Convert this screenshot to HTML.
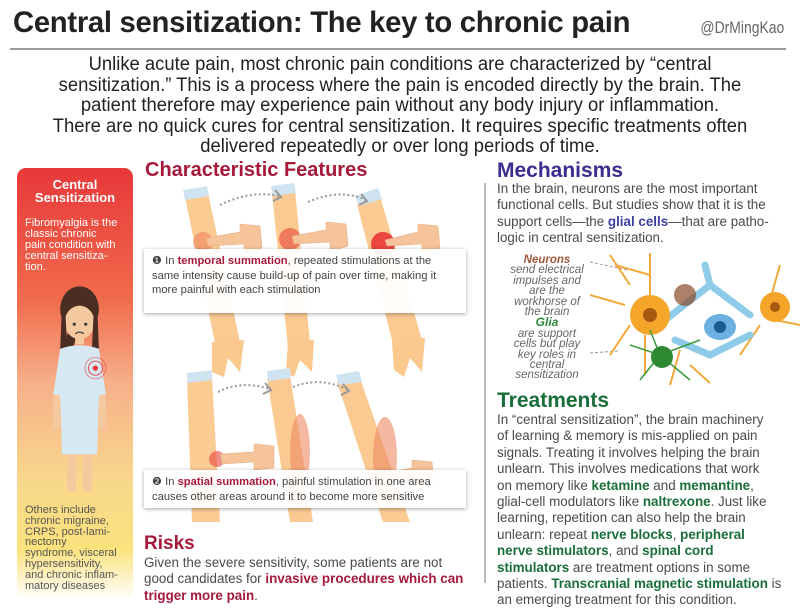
<!DOCTYPE html>
<html><head><meta charset="utf-8"><style>
*{margin:0;padding:0;box-sizing:border-box}
body{width:800px;height:608px;background:#fff;position:relative;overflow:hidden;font-family:"Liberation Sans",sans-serif;color:#444}
.a{position:absolute;white-space:nowrap}
.title{left:13px;top:6px;font-size:30px;font-weight:bold;color:#222;transform:scaleX(.975);transform-origin:left top;letter-spacing:-.3px}
.handle{right:16px;top:18px;font-size:17px;color:#666;transform:scaleX(.82);transform-origin:right top}
.intro{left:0;width:800px;top:55px;text-align:center;font-size:19px;line-height:20.6px;color:#222}
.intro div{transform:scaleX(.97)}
.lp{left:17px;top:168px;width:116px;height:432px;border-radius:9px;background:linear-gradient(#e8383a 0%,#f06a4c 30%,#f7b08a 50%,#f8d78d 72%,#fbe27c 88%,#fff 100%)}
.h2{font-weight:bold;font-size:20px}
.p{font-size:13.4px;line-height:16.4px;color:#4a4a4a}
.box{position:absolute;background:rgba(255,255,255,.94);box-shadow:0 1px 4px rgba(0,0,0,.35);font-size:11.2px;line-height:14.5px;color:#444;padding:5px 8px}
.r{color:#a6193a;font-weight:bold}
.g{color:#1a6e3a;font-weight:bold}
.it{font-style:italic;font-size:11.5px;line-height:10.4px;color:#666;text-align:center}
</style></head><body>
<div class="a title">Central sensitization: The key to chronic pain</div>
<div class="a handle">@DrMingKao</div>
<div style="position:absolute;left:10px;top:48px;width:776px;height:2px;background:#999"></div>
<div class="a intro">
<div>Unlike acute pain, most chronic pain conditions are characterized by “central</div>
<div>sensitization.” This is a process where the pain is encoded directly by the brain. The</div>
<div>patient therefore may experience pain without any body injury or inflammation.</div>
<div>There are no quick cures for central sensitization. It requires specific treatments often</div>
<div>delivered repeatedly or over long periods of time.</div>
</div>

<div class="a lp"></div>
<div class="a" style="left:17px;width:116px;top:179px;text-align:center;color:#fff;font-weight:bold;font-size:13px;line-height:12.5px">Central<br>Sensitization</div>
<div class="a" style="left:25px;top:218px;color:#fff;font-size:11px;line-height:11px">Fibromyalgia is the<br>classic chronic<br>pain condition with<br>central sensitiza-<br>tion.</div>
<svg class="a" style="left:17px;top:168px" width="116" height="432">
<g transform="translate(8,40) scale(.88)">
<path d="M38 195 Q38 150 60 125 L60 145 Z" fill="#4a2e22"/>
<ellipse cx="62" cy="115" rx="22" ry="26" fill="#4a2e22"/>
<ellipse cx="62" cy="130" rx="17" ry="19" fill="#f5c9a0"/>
<path d="M44 118 Q62 95 80 118 L80 110 Q62 85 44 110Z" fill="#4a2e22"/>
<path d="M42 112 L40 160 L48 160 L46 120Z M82 112 L84 160 L76 160 L78 120Z" fill="#4a2e22"/>
<circle cx="56" cy="132" r="1.8" fill="#333"/><circle cx="69" cy="132" r="1.8" fill="#333"/>
<path d="M57 143 Q62 139 67 143" stroke="#333" fill="none" stroke-width="1.2"/>
<rect x="57" y="147" width="10" height="8" fill="#f5c9a0"/>
<path d="M40 160 Q62 152 84 160 L92 212 L84 215 L82 280 L42 280 L40 215 L32 212 Z" fill="#d6e8f2"/>
<rect x="32" y="212" width="8" height="40" rx="4" fill="#f5c9a0"/><rect x="84" y="212" width="8" height="40" rx="4" fill="#f5c9a0"/>
<rect x="48" y="280" width="10" height="42" fill="#f5c9a0"/><rect x="66" y="280" width="10" height="42" fill="#f5c9a0"/>
<circle cx="80" cy="182" r="12" fill="none" stroke="#e8383a" stroke-width="1" opacity=".6"/>
<circle cx="80" cy="182" r="8" fill="none" stroke="#e8383a" stroke-width="1.2" opacity=".8"/>
<circle cx="80" cy="182" r="3" fill="#e8383a"/>
</g>
</svg>
<div class="a" style="left:25px;top:505px;color:#555;font-size:11px;line-height:10.8px">Others include<br>chronic migraine,<br>CRPS, post-lami-<br>nectomy<br>syndrome, visceral<br>hypersensitivity,<br>and chronic inflam-<br>matory diseases</div>

<div class="a h2" style="left:145px;top:159px;color:#a6193a">Characteristic Features</div>
<svg class="a" style="left:140px;top:182px" width="340" height="350">
<g fill="#fbc88e" opacity=".95">
<polygon points="45,15 68,11 100,160 76,166"/><polygon points="132,11 155,8 170,160 148,166"/><polygon points="217,22 240,14 282,158 254,166"/>
<polygon points="47,198 72,195 80,340 52,340"/><polygon points="127,196 150,193 173,340 150,340"/><polygon points="197,200 220,196 270,340 243,340"/>
</g>
<g fill="#fbc88e"><path d="M72 160 L104 158 L100 190 L88 176 L84 195 L72 190Z"/><path d="M148 160 L174 158 L172 190 L160 178 L154 195 L146 190Z"/><path d="M252 160 L285 156 L282 190 L270 176 L264 195 L254 188Z"/></g>
<g fill="#cfe4f0"><polygon points="43,8 67,4 69,14 45,18"/><polygon points="131,4 154,1 156,11 133,14"/><polygon points="215,14 238,6 242,17 219,24"/><polygon points="47,191 72,188 72,198 47,201"/><polygon points="127,189 150,186 151,196 128,199"/><polygon points="196,193 219,189 222,200 199,203"/></g>
<circle cx="63" cy="60" r="10" fill="#f0845e" opacity=".6"/><circle cx="150" cy="57" r="11" fill="#ea5a44" opacity=".7"/><circle cx="243" cy="62" r="12" fill="#e8242a" opacity=".8"/>
<ellipse cx="160" cy="270" rx="10" ry="38" fill="#ee8a62" opacity=".6"/><ellipse cx="245" cy="275" rx="12" ry="40" fill="#ee8a62" opacity=".6"/><circle cx="77" cy="277" r="8" fill="#e8423a" opacity=".6"/><circle cx="237" cy="296" r="8" fill="#e8423a" opacity=".6"/>
<g fill="#f5c49a" stroke="#e8a87a" stroke-width=".5">
<path d="M66 56 L100 50 L100 42 L120 44 L122 66 L104 72 L104 62 L68 64Z"/><path d="M152 54 L186 48 L186 40 L206 42 L208 64 L190 70 L190 60 L154 62Z"/><path d="M245 58 L278 50 L278 42 L298 44 L300 66 L282 72 L282 62 L247 64Z"/>
<path d="M80 272 L114 270 L114 262 L134 264 L134 286 L114 288 L114 280 L82 282Z"/><path d="M238 292 L272 286 L272 278 L292 280 L294 302 L276 308 L276 298 L240 300Z"/>
</g>
<g fill="none" stroke="#999" stroke-width="2" stroke-dasharray="2 2.5"><path d="M80 23 Q110 8 140 14"/><path d="M168 20 Q200 6 226 18"/><path d="M78 210 Q100 198 130 207"/><path d="M153 205 Q180 194 208 208"/></g>
<g fill="none" stroke="#999" stroke-width="2"><path d="M135 8 L141 15 L133 19"/><path d="M221 12 L227 19 L219 23"/><path d="M125 201 L131 208 L123 212"/><path d="M203 202 L209 209 L201 213"/></g>
</svg>
<div class="box" style="left:144px;top:249px;width:322px;height:64px">❶ In <span class="r">temporal summation</span>, repeated stimulations at the<br>same intensity cause build-up of pain over time, making it<br>more painful with each stimulation</div>
<div class="box" style="left:144px;top:470px;width:322px;height:38px">❷ In <span class="r">spatial summation</span>, painful stimulation in one area<br>causes other areas around it to become more sensitive</div>

<div class="a h2" style="left:144px;top:533px;color:#a6193a;font-size:19px">Risks</div>
<div class="a p" style="left:144px;top:555px">Given the severe sensitivity, some patients are not<br>good candidates for <span class="r">invasive procedures which can</span><br><span class="r">trigger more pain</span>.</div>

<div style="position:absolute;left:484px;top:183px;width:1.5px;height:400px;background:#bbb"></div>

<div class="a h2" style="left:497px;top:159px;color:#3b2d8f;font-size:21px">Mechanisms</div>
<div class="a p" style="left:497px;top:181px">In the brain, neurons are the most important<br>functional cells. But studies show that it is the<br>support cells—the <b style="color:#3b3fa0">glial cells</b>—that are patho-<br>logic in central sensitization.</div>
<div class="a it" style="left:503px;top:255px;width:88px"><b style="color:#a0583a">Neurons</b><br>send electrical<br>impulses and<br>are the<br>workhorse of<br>the brain<br><b style="color:#2c8a3a;font-size:12px">Glia</b><br>are support<br>cells but play<br>key roles in<br>central<br>sensitization</div>
<svg class="a" style="left:590px;top:245px" width="210" height="140">
<g stroke="#999" stroke-dasharray="3 2" fill="none"><path d="M0 17 L38 25"/><path d="M0 108 L28 106"/></g>
<g stroke="#f2a93a" stroke-width="2" fill="none"><path d="M40 40 L20 10 M35 60 L0 50 M40 80 L20 110 M55 90 L55 130 M60 50 L60 8 M180 55 L190 20 M185 75 L210 80 M170 80 L150 110 M90 105 L80 140 M100 120 L120 138 M60 30 L25 20"/></g>
<g stroke="#8ecbe8" stroke-width="7" fill="none" stroke-linecap="round"><path d="M75 75 L120 40 L160 70 M120 40 L115 20 M85 95 L120 110 L160 90"/></g>
<circle cx="60" cy="70" r="20" fill="#f5a62a"/><circle cx="60" cy="70" r="7" fill="#a55a10"/>
<circle cx="185" cy="62" r="15" fill="#f5a62a"/><circle cx="185" cy="62" r="5" fill="#a55a10"/>
<circle cx="95" cy="50" r="11" fill="#8a4a2a" opacity=".7"/>
<ellipse cx="130" cy="82" rx="16" ry="13" fill="#6ab0e0"/><circle cx="130" cy="82" r="6" fill="#1a5a90"/>
<g stroke="#3a9a3a" stroke-width="1.5" fill="none"><path d="M70 110 L40 100 M70 110 L50 135 M70 110 L100 135 M70 110 L60 85 M70 110 L110 95"/></g>
<circle cx="72" cy="112" r="11" fill="#2e8a32"/>
</svg>

<div class="a h2" style="left:497px;top:389px;color:#1a6e3a;font-size:21px">Treatments</div>
<div class="a p" style="left:497px;top:412px">In “central sensitization”, the brain machinery<br>of learning &amp; memory is mis-applied on pain<br>signals. Treating it involves helping the brain<br>unlearn. This involves medications that work<br>on memory like <span class="g">ketamine</span> and <span class="g">memantine</span>,<br>glial-cell modulators like <span class="g">naltrexone</span>. Just like<br>learning, repetition can also help the brain<br>unlearn: repeat <span class="g">nerve blocks</span>, <span class="g">peripheral</span><br><span class="g">nerve stimulators</span>, and <span class="g">spinal cord</span><br><span class="g">stimulators</span> are treatment options in some<br>patients. <span class="g">Transcranial magnetic stimulation</span> is<br>an emerging treatment for this condition.</div>
</body></html>
